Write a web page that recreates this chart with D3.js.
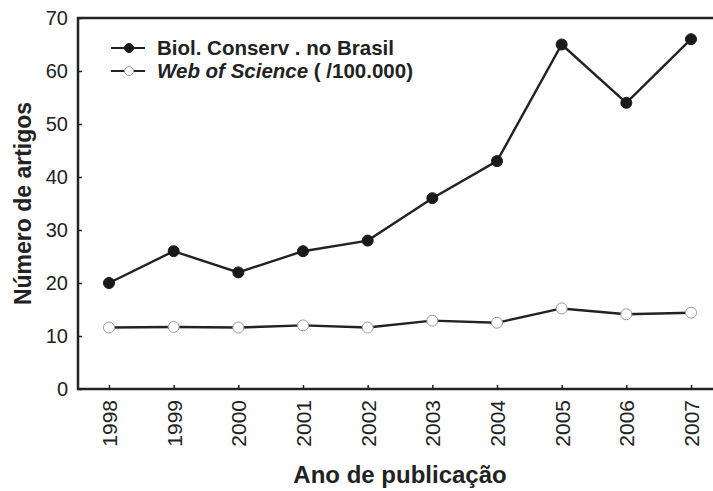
<!DOCTYPE html>
<html>
<head>
<meta charset="utf-8">
<script src="https://cdn.jsdelivr.net/npm/d3@7"></script>
<style>
  body { margin:0; background:#fff; }
  text { font-family: "Liberation Sans", Arial, sans-serif; fill:#222; }
</style>
</head>
<body>
<svg></svg>
<script>
var years = [1998,1999,2000,2001,2002,2003,2004,2005,2006,2007];
var biolConserv = [20,26,22,26,28,36,43,65,54,66];
var webOfScience = [11.6,11.7,11.6,12.0,11.6,12.9,12.5,15.2,14.1,14.4];
var yTicks = [0,10,20,30,40,50,60,70];

var screen = { width:713, height:491 };

var svg = d3.select("svg")
            .attr("width",screen.width)
            .attr("height",screen.height);

var margins = { top:18, bottom:102, left:78, right:0 };

var width = screen.width - margins.left - margins.right;
var height = screen.height - margins.top - margins.bottom;

//scales
var xScale = d3.scalePoint()
               .domain(years)
               .range([31,613]);
var yScale = d3.scaleLinear()
               .domain([0,70])
               .range([height,0]);

var plotLand = svg.append("g")
                  .attr("transform","translate("+margins.left+","+margins.top+")");

//axes with inward ticks
var yAxis = d3.axisLeft(yScale).tickValues(yTicks).tickSize(-4).tickPadding(10);
var yG = plotLand.append("g").call(yAxis);
yG.select(".domain").remove();
yG.selectAll("text").style("font-size","20px").attr("fill","#222");
yG.selectAll("line").attr("stroke","#222").attr("stroke-width",1.5);

var xAxis = d3.axisBottom(xScale).tickSize(-4).tickPadding(10);
var xG = plotLand.append("g")
                 .attr("transform","translate(0,"+height+")")
                 .call(xAxis);
xG.select(".domain").remove();
xG.selectAll("line").attr("stroke","#222").attr("stroke-width",1.5);
xG.selectAll("text")
  .style("font-size","21px")
  .attr("fill","#222")
  .attr("text-anchor","end")
  .attr("dy","0.35em")
  .attr("transform","rotate(-90)")
  .attr("x",-11)
  .attr("y",0);

//frame: left, top, bottom
plotLand.append("path")
        .attr("d","M"+width+",0H0V"+height+"H"+width)
        .attr("fill","none")
        .attr("stroke","#222")
        .attr("stroke-width",2.5);

var line = d3.line()
             .x(function(d,i){return xScale(years[i]);})
             .y(function(d){return yScale(d);});

var series = [
  {name:"wos", values:webOfScience, fill:"#fff"},
  {name:"biol", values:biolConserv, fill:"#1a1a1a"}
];

series.forEach(function(s)
{
  plotLand.append("path")
          .datum(s.values)
          .attr("d",line)
          .attr("fill","none")
          .attr("stroke","#222")
          .attr("stroke-width",2.4);
  plotLand.selectAll("circle."+s.name)
          .data(s.values)
          .enter()
          .append("circle")
          .attr("class",s.name)
          .attr("cx",function(d,i){return xScale(years[i]);})
          .attr("cy",function(d){return yScale(d);})
          .attr("r",5.5)
          .attr("fill",s.fill)
          .attr("stroke",s.name=="wos" ? "#999" : "#1a1a1a")
          .attr("stroke-width",1);
});

//legend
var legend = svg.append("g").attr("transform","translate(111,48)");
var legendLines = legend.selectAll("g")
                        .data(series.slice().reverse())
                        .enter()
                        .append("g")
                        .attr("transform",function(d,i){return "translate(0,"+(i*23)+")";});
legendLines.append("line")
           .attr("x1",0).attr("x2",34)
           .attr("stroke","#222").attr("stroke-width",2);
legendLines.append("circle")
           .attr("cx",18).attr("r",4.5)
           .attr("fill",function(d){return d.fill;})
           .attr("stroke",function(d){return d.name=="wos" ? "#999" : "#1a1a1a";});

legend.append("text").attr("x",46).attr("y",7)
      .style("font-size","20.5px").style("font-weight","bold")
      .text("Biol. Conserv . no Brasil");
var t2 = legend.append("text").attr("x",46).attr("y",30)
               .style("font-size","20.5px").style("font-weight","bold");
t2.append("tspan").style("font-style","italic").text("Web of Science");
t2.append("tspan").text(" ( /100.000)");

//axis titles
svg.append("text")
   .attr("x",400)
   .attr("y",483)
   .attr("text-anchor","middle")
   .style("font-size","24px").style("font-weight","bold")
   .text("Ano de publicação");

svg.append("text")
   .attr("transform","translate(31,"+(margins.top+height/2)+") rotate(-90)")
   .attr("text-anchor","middle")
   .style("font-size","23px").style("font-weight","bold")
   .text("Número de artigos");
</script>
</body>
</html>
